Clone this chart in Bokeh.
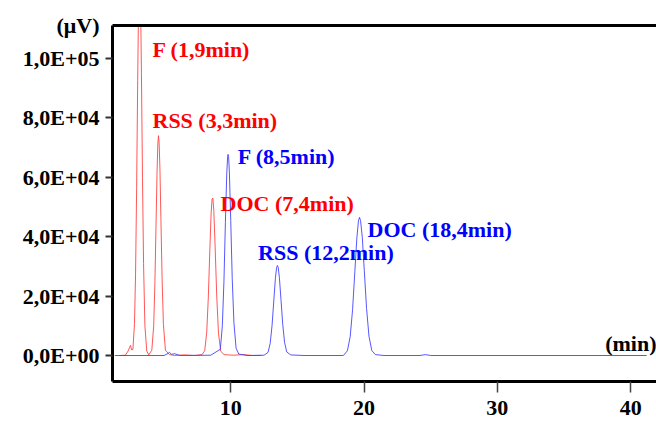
from bokeh.plotting import figure
from bokeh.models import FixedTicker, LinearAxis, Label, Range1d
from bokeh.embed import file_html
from bokeh.resources import INLINE

# ---- data ----
red_time = [1.70, 2.10, 2.30, 2.40, 2.48, 2.56, 2.66, 2.78, 2.86, 2.94, 3.02, 3.09, 3.16,
            3.23, 3.30, 3.38, 3.46, 3.56, 3.70, 3.85, 4.08, 4.22, 4.31, 4.40, 4.47, 4.53,
            4.58, 4.63, 4.69, 4.76, 4.85, 4.95, 5.10, 5.40, 5.80, 6.50, 7.30, 7.85, 8.05,
            8.20, 8.32, 8.43, 8.53, 8.60, 8.66, 8.73, 8.83, 8.95, 9.08, 9.25, 9.50, 10.2,
            11.0, 11.6, 12.3]
red_signal = [0, 100, 1500, 2600, 3400, 1900, 2000, 10700, 27400, 56300, 92600, 119500, 130000,
              121000, 95000, 60000, 31000, 10000, 1500, 200, 1800, 10000, 24000, 44900, 61400, 71200,
              74000, 71500, 62500, 46500, 26000, 10500, 1800, 300, 0, 200, 0, 300, 1640,
              7870, 19700, 35200, 48000, 52700, 53000, 48800, 36500, 20000, 7500, 1400, 300, 100,
              300, 0, 0]

blue_time = [1.30, 5.00, 5.30, 5.40, 5.55, 5.80, 6.20, 8.50, 9.22, 9.37, 9.49, 9.60, 9.70,
             9.77, 9.80, 9.84, 9.90, 10.00, 10.11, 10.24, 10.40, 10.60, 11.2, 12.5, 12.80,
             12.96, 13.10, 13.23, 13.35, 13.44, 13.50, 13.56, 13.65, 13.77, 13.90, 14.04, 14.20,
             14.50, 15.5, 18.45, 18.75, 18.96, 19.14, 19.31, 19.46, 19.58, 19.66, 19.74, 19.87,
             20.02, 20.19, 20.37, 20.58, 20.85, 21.5, 24.2, 24.6, 25.0, 41.2]
blue_signal = [0, 0, 700, 1100, 400, 600, 0, 100, 2100, 10000, 25000, 44800, 61100,
               67100, 67700, 67000, 61500, 45500, 26000, 11000, 2500, 500, 0, 100, 1050,
               4100, 10100, 18400, 26000, 29600, 30300, 29700, 26200, 18800, 10500, 4400, 1200,
               200, 0, 0, 1580, 6300, 15400, 28200, 39500, 45300, 46500, 45400, 39800,
               28600, 15800, 6500, 1700, 300, 0, 0, 300, 0, 0]

x_ticks = [10, 20, 30, 40]
y_ticks = [0, 20000, 40000, 60000, 80000, 100000]
y_tick_labels = ["0,0E+00", "2,0E+04", "4,0E+04", "6,0E+04", "8,0E+04", "1,0E+05"]

peak_labels_red = ["F (1,9min)", "RSS (3,3min)", "DOC (7,4min)"]
peak_labels_blue = ["F (8,5min)", "RSS (12,2min)", "DOC (18,4min)"]
y_unit = "(μV)"
x_unit = "(min)"

# ---- layout / style ----
X_START, X_END = 1.13, 41.94
Y_START, Y_END = -8750, 111100
FONT = "Liberation Serif"
RED_LINE = "#ff3a3a"
BLUE_LINE = "#3a3aff"

p = figure(width=656, height=425, output_backend="svg", toolbar_location=None,
           x_range=Range1d(X_START, X_END), y_range=Range1d(Y_START, Y_END),
           min_border_left=112, min_border_right=0, min_border_top=25, min_border_bottom=44,
           outline_line_color=None, background_fill_color="white", border_fill_color="white")
p.grid.visible = False

p.line(red_time, red_signal, line_color=RED_LINE, line_width=1, line_alpha=0.85)
p.line(blue_time, blue_signal, line_color=BLUE_LINE, line_width=1, line_alpha=0.85)

# axes
xa = p.xaxis[0]
xa.ticker = FixedTicker(ticks=x_ticks)
xa.axis_line_width = 3
xa.axis_line_color = "black"
xa.major_tick_out = 11
xa.major_tick_in = 0
xa.major_tick_line_width = 1.5
xa.major_tick_line_color = "#444444"
xa.minor_tick_line_color = None
xa.major_label_standoff = 8
xa.major_label_text_font = FONT
xa.major_label_text_font_style = "bold"
xa.major_label_text_font_size = "22px"
xa.major_label_text_color = "black"

# y axis: labelled positions are the value ticks plus the unit at the top of the axis;
# the visible tick marks are drawn as "minor" ticks at the value positions only
unit_pos = Y_END - 1
ya = p.yaxis[0]
ya.ticker = FixedTicker(ticks=y_ticks + [unit_pos], minor_ticks=y_ticks)
overrides = {t: l for t, l in zip(y_ticks, y_tick_labels)}
overrides[unit_pos] = y_unit
ya.major_label_overrides = overrides
ya.axis_line_width = 3
ya.axis_line_color = "black"
ya.major_tick_out = 7
ya.major_tick_in = 0
ya.major_tick_line_color = None
ya.minor_tick_out = 7
ya.minor_tick_in = 0
ya.minor_tick_line_width = 2
ya.minor_tick_line_color = "#333333"
ya.major_label_standoff = 6
ya.major_label_text_font = FONT
ya.major_label_text_font_style = "bold"
ya.major_label_text_font_size = "22px"
ya.major_label_text_color = "black"

top = LinearAxis(ticker=FixedTicker(ticks=[]), axis_line_width=3, axis_line_color="black",
                 major_tick_line_color=None, minor_tick_line_color=None,
                 major_label_text_font_size="0px", major_label_standoff=0,
                 major_tick_out=0, major_tick_in=0)
p.add_layout(top, "above")

# annotations
def add_label(txt, x, y, color, align="left"):
    p.add_layout(Label(x=x, y=y, text=txt, text_color=color, text_font=FONT,
                       text_font_style="bold", text_font_size="22px",
                       text_align=align, text_baseline="alphabetic"))

red_pos = [(4.13, 103000), (4.13, 79100), (9.24, 51100)]
blue_pos = [(10.52, 67000), (12.05, 34700), (20.26, 42400)]
for txt, (x, y) in zip(peak_labels_red, red_pos):
    add_label(txt, x, y, "#ff0000")
for txt, (x, y) in zip(peak_labels_blue, blue_pos):
    add_label(txt, x, y, "#0000ff")

add_label(x_unit, X_END, 4200, "black", align="right")

open("out.html", "w").write(file_html(p, INLINE))
